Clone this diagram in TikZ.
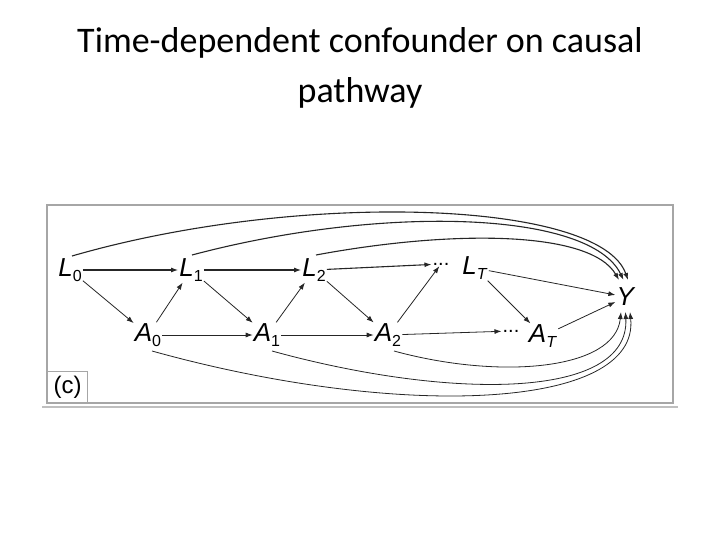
\documentclass[tikz,border=0pt]{standalone}
\usepackage{fontspec}
\setmainfont{Carlito}
\newfontfamily\dagfont{Liberation Sans}
\usetikzlibrary{arrows.meta}
\newcommand{\vsub}[2]{\textit{#1}\raisebox{-5pt}{\fontsize{16}{16}\selectfont #2}}
\begin{document}
\begin{tikzpicture}[x=1pt,y=-1pt,
  v/.style={inner sep=1pt,font=\dagfont\fontsize{26}{26}\selectfont},
  e/.style={-{Latex[length=7pt,width=5pt]},line width=0.8pt,draw=black!85},
  eb/.style={e,line width=1.1pt}]
\useasboundingbox (0,0) rectangle (720,540);
\node[font=\fontsize{36}{50}\selectfont,align=center] (title) at (360,68) {Time-dependent confounder on causal\\pathway};
\draw[gray!70,line width=1.5pt,fill=white] (47,205) rectangle (673,403);
\draw[gray!50,line width=1.5pt] (42,407) -- (678,407);
\node[draw=gray!70,line width=1.2pt,minimum width=40pt,minimum height=31pt,anchor=south west,font=\dagfont\fontsize{24}{24}\selectfont,inner sep=0pt] (lab) at (47,403) {(c)};
\node[v] (L0) at (70,270) {\vsub{L}{0}};
\node[v] (L1) at (191,270) {\vsub{L}{1}};
\node[v] (L2) at (314,270) {\vsub{L}{2}};
\node[v] (dL) at (441,264) {\fontsize{20}{20}\selectfont ...};
\node[v] (LT) at (475,268) {\vsub{L}{\textit{T}}};
\node[v] (Y) at (626,297) {\textit{Y}};
\node[v] (A0) at (148,335) {\vsub{A}{0}};
\node[v] (A1) at (267,335) {\vsub{A}{1}};
\node[v] (A2) at (388,335) {\vsub{A}{2}};
\node[v] (dA) at (511,331) {\fontsize{20}{20}\selectfont ...};
\node[v] (AT) at (543,336) {\vsub{A}{\textit{T}}};
\coordinate (yt1) at (619,280); \coordinate (yt2) at (623.5,280); \coordinate (yt3) at (628,280);
\coordinate (yb1) at (621,312); \coordinate (yb2) at (625.5,312); \coordinate (yb3) at (630,312);
\draw[eb] (L0) -- (L1); \draw[eb] (L1) -- (L2); \draw[eb] (L2) -- (dL);
\draw[e] (A0) -- (A1); \draw[e] (A1) -- (A2); \draw[e] (A2) -- (dA);
\draw[e] (L0) -- (A0); \draw[e] (A0) -- (L1); \draw[e] (L1) -- (A1);
\draw[e] (A1) -- (L2); \draw[e] (L2) -- (A2); \draw[e] (A2) -- (dL);
\draw[e] (LT) -- (AT);
\draw[e] (LT) -- (Y); \draw[e] (AT) -- (Y);
\draw[eb] (72,256) .. controls (300,190) and (600,200) .. (yt3);
\draw[eb] (192,255) .. controls (380,205) and (590,210) .. (yt2);
\draw[eb] (316,255) .. controls (450,230) and (590,230) .. (yt1);
\draw[e] (152,351) .. controls (400,420) and (640,410) .. (yb3);
\draw[e] (272,351) .. controls (450,400) and (630,400) .. (yb2);
\draw[e] (394,351) .. controls (500,380) and (615,370) .. (yb1);
\end{tikzpicture}
\end{document}
